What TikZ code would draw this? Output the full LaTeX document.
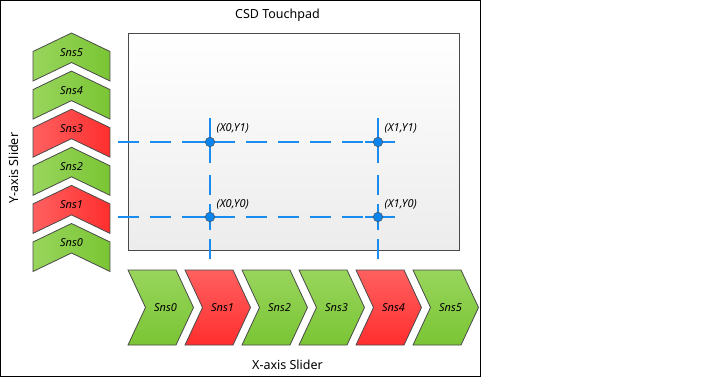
\documentclass[tikz,border=0pt]{standalone}
\usepackage{fontspec}
\setmainfont{Noto Sans}
\definecolor{glight}{HTML}{98D55C}
\definecolor{gdark}{HTML}{7AC534}
\definecolor{rlight}{HTML}{FF6060}
\definecolor{rdark}{HTML}{FF2E2E}
\definecolor{edgegray}{HTML}{4A4A4A}
\definecolor{padgray}{HTML}{ECECEC}
\definecolor{lineblue}{HTML}{1A8CF0}
\definecolor{dotblue}{HTML}{0A84EE}
\tikzset{
  chevedge/.style={draw=edgegray, line width=0.8pt, line join=miter},
  ygreen/.style={chevedge, left color=glight, right color=gdark},
  yred/.style={chevedge, left color=rlight, right color=rdark},
  xgreen/.style={chevedge, top color=glight, bottom color=gdark},
  xred/.style={chevedge, top color=rlight, bottom color=rdark},
  snslabel/.style={font=\fontsize{11}{13}\selectfont\itshape, inner sep=0pt},
  ptlabel/.style={font=\fontsize{11}{13}\selectfont\itshape, inner sep=0pt, anchor=west},
  titlelabel/.style={font=\fontsize{12.5}{15}\selectfont, inner sep=0pt},
  dotnode/.style={circle, fill=dotblue, draw=edgegray!80!lineblue, line width=0.6pt, minimum size=9.5pt, inner sep=0pt},
  hdash/.style={draw=lineblue, line width=1.2pt, dash pattern=on 20.5pt off 11.5pt},
  vdash/.style={draw=lineblue, line width=1.2pt, dash pattern=on 20pt off 12pt, dash phase=7pt},
  cross/.style={draw=lineblue, line width=1.2pt}
}
\begin{document}
\begin{tikzpicture}[x=1pt,y=-1pt]
\useasboundingbox (0,0) rectangle (723,377);
\fill[white] (0,0) rectangle (723,377);
% outer frame
\draw[black, line width=1pt] (0.5,0.5) rectangle (480.5,376.3);
% touchpad
\shade[top color=white, bottom color=padgray, draw=edgegray, line width=1pt] (128.5,33.5) rectangle (459,250.5);
\node[titlelabel] (title) at (277.5,15.5) {CSD Touchpad};

% Y-axis slider chevrons
\foreach \i/\sty in {0/ygreen,1/yred,2/ygreen,3/yred,4/ygreen,5/ygreen}{
  \pgfmathsetmacro{\a}{223.5-38.1*\i}
  \path[\sty] (33,\a+18.5) -- (71.5,\a) -- (110,\a+18.5) -- (110,\a+48) -- (71.5,\a+29.5) -- (33,\a+48) -- cycle;
  \node[snslabel] (ys\i) at (71.5,\a+19.5) {Sns\i};
}
\node[titlelabel, rotate=90] (ylabel) at (13.5,168) {Y-axis Slider};

% X-axis slider chevrons
\foreach \i/\sty in {0/xgreen,1/xred,2/xgreen,3/xgreen,4/xred,5/xgreen}{
  \pgfmathsetmacro{\l}{128+57*\i}
  \path[\sty] (\l,270) -- (\l+48,270) -- (\l+65.5,307.5) -- (\l+48,345) -- (\l,345) -- (\l+17.5,307.5) -- cycle;
  \node[snslabel] (xs\i) at (\l+37.5,308) {Sns\i};
}
\node[titlelabel] (xlabel) at (287.5,364.5) {X-axis Slider};

% dashed grid lines
\coordinate (h1s) at (118,142); \coordinate (h1e) at (394.5,142);
\coordinate (h0s) at (118,217); \coordinate (h0e) at (394.5,217);
\coordinate (v0s) at (210,118); \coordinate (v0e) at (210,260);
\coordinate (v1s) at (378,118); \coordinate (v1e) at (378,260);
\draw[hdash] (h1s) -- (h1e);
\draw[hdash] (h0s) -- (h0e);
\draw[vdash] (v0s) -- (v0e);
\draw[vdash] (v1s) -- (v1e);

% points
\foreach \n/\x/\y in {d01/210/142, d11/378/142, d00/210/217, d10/378/217}{
  \coordinate (\n c) at (\x,\y);
  \draw[cross] ([xshift=-13pt]\n c) -- ([xshift=13pt]\n c);
  \draw[cross] ([yshift=-13pt]\n c) -- ([yshift=13pt]\n c);
  \node[dotnode] (\n) at (\n c) {};
}
\node[ptlabel] (l01) at (216.5,128) {(X0,Y1)};
\node[ptlabel] (l11) at (384.5,128) {(X1,Y1)};
\node[ptlabel] (l00) at (216.5,204) {(X0,Y0)};
\node[ptlabel] (l10) at (384.5,204) {(X1,Y0)};
\end{tikzpicture}
\end{document}
